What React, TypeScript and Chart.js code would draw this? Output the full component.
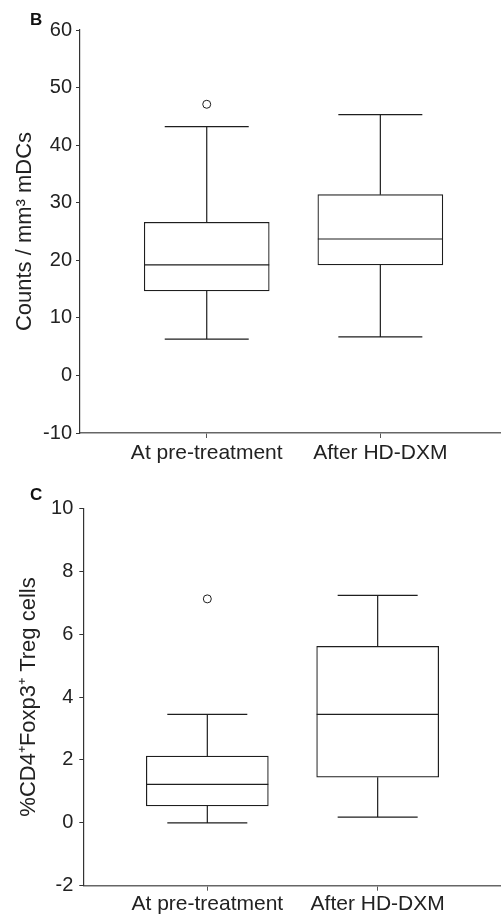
import React, { useEffect, useRef } from "react";
import { Chart, registerables } from "chart.js";

Chart.register(...registerables);

const FONT = "'Liberation Sans', Arial, Helvetica, sans-serif";

// Shared categories
const categories = ["At pre-treatment", "After HD-DXM"];
const categoryPositions = [1, 2];

// Panel B: Counts / mm3 mDCs
const bTicks = [-10, 0, 10, 20, 30, 40, 50, 60];
const bWhiskerLow = [6.3, 6.7];
const bQ1 = [14.7, 19.2];
const bMedian = [19.2, 23.7];
const bQ3 = [26.6, 31.4];
const bWhiskerHigh = [43.2, 45.3];
const bOutliers = [[47.1], []];

// Panel C: %CD4+Foxp3+ Treg cells
const cTicks = [-2, 0, 2, 4, 6, 8, 10];
const cWhiskerLow = [0.0, 0.18];
const cQ1 = [0.54, 1.45];
const cMedian = [1.22, 3.45];
const cQ3 = [2.12, 5.61];
const cWhiskerHigh = [3.45, 7.23];
const cOutliers = [[7.12], []];

type PanelProps = {
  letter: string;
  yTitle: string;
  ticks: number[];
  low: number[];
  q1: number[];
  median: number[];
  q3: number[];
  high: number[];
  outliers: number[][];
  top: number;
  height: number;
  padTop: number;
  xHeight: number;
  yWidth: number;
  xMin: number;
  xMax: number;
  boxPx: number;
  capHalf: number;
  titlePad: number;
  xLabelPad: number;
  yLabelPad: number;
  letterBaseline: number;
};

function Panel(p: PanelProps) {
  const ref = useRef<HTMLCanvasElement | null>(null);
  useEffect(() => {
    if (!ref.current) return;
    const lineColor = "#1e1e1e";
    const boxPlugin = {
      id: "boxExtras",
      afterDatasetsDraw(chart: any) {
        const ctx = chart.ctx;
        const xs = chart.scales.x;
        const ys = chart.scales.y;
        ctx.save();
        ctx.strokeStyle = lineColor;
        ctx.lineWidth = 1.2;
        categoryPositions.forEach((pos, i) => {
          const cx = xs.getPixelForValue(pos);
          const half = p.boxPx / 2;
          const yLow = ys.getPixelForValue(p.low[i]);
          const yQ1 = ys.getPixelForValue(p.q1[i]);
          const yMed = ys.getPixelForValue(p.median[i]);
          const yQ3 = ys.getPixelForValue(p.q3[i]);
          const yHigh = ys.getPixelForValue(p.high[i]);
          ctx.beginPath();
          ctx.moveTo(cx, yQ3);
          ctx.lineTo(cx, yHigh);
          ctx.moveTo(cx, yQ1);
          ctx.lineTo(cx, yLow);
          ctx.moveTo(cx - p.capHalf, yHigh);
          ctx.lineTo(cx + p.capHalf, yHigh);
          ctx.moveTo(cx - p.capHalf, yLow);
          ctx.lineTo(cx + p.capHalf, yLow);
          ctx.moveTo(cx - half, yMed);
          ctx.lineTo(cx + half, yMed);
          ctx.stroke();
        });
        ctx.fillStyle = "#111";
        ctx.font = `bold 17px ${FONT}`;
        ctx.textAlign = "left";
        ctx.textBaseline = "alphabetic";
        ctx.fillText(p.letter, 30, p.letterBaseline);
        ctx.restore();
      },
    };

    const outlierData: { x: number; y: number }[] = [];
    p.outliers.forEach((arr, i) => arr.forEach((v) => outlierData.push({ x: categoryPositions[i], y: v })));

    const chart = new Chart(ref.current, {
      type: "bar",
      data: {
        datasets: [
          {
            type: "bar",
            data: categoryPositions.map((x, i) => ({ x, y: [p.q1[i], p.q3[i]] })) as any,
            backgroundColor: "#ffffff",
            borderColor: lineColor,
            borderWidth: 1.2,
            borderSkipped: false,
            barThickness: p.boxPx,
            grouped: false,
          } as any,
          {
            type: "scatter",
            data: outlierData,
            pointRadius: 4,
            pointBackgroundColor: "#ffffff",
            pointBorderColor: lineColor,
            pointBorderWidth: 1,
          } as any,
        ],
      },
      options: {
        animation: false,
        responsive: false,
        maintainAspectRatio: false,
        layout: { autoPadding: false, padding: { top: p.padTop, left: 0, right: 0, bottom: 0 } },
        plugins: { legend: { display: false }, tooltip: { enabled: false } },
        scales: {
          x: {
            type: "linear",
            offset: false,
            bounds: "data",
            min: p.xMin,
            max: p.xMax,
            afterBuildTicks: (s: any) => {
              s.ticks = categoryPositions.map((v) => ({ value: v }));
            },
            afterFit: (s: any) => {
              s.height = p.xHeight;
            },
            ticks: {
              callback: (v: any) => {
                const idx = categoryPositions.indexOf(Number(v));
                return idx >= 0 ? categories[idx] : "";
              },
              font: { family: FONT, size: 21 },
              color: "#222",
              padding: p.xLabelPad,
              maxRotation: 0,
              autoSkip: false,
            },
            grid: { offset: false, drawOnChartArea: false, drawTicks: true, tickLength: 5, color: "#555", lineWidth: 1 },
            border: { display: true, color: "#666", width: 1.5 },
          },
          y: {
            type: "linear",
            min: p.ticks[0],
            max: p.ticks[p.ticks.length - 1],
            afterBuildTicks: (s: any) => {
              s.ticks = p.ticks.map((v) => ({ value: v }));
            },
            afterFit: (s: any) => {
              s.width = p.yWidth;
            },
            ticks: {
              font: { family: FONT, size: 20 },
              color: "#222",
              padding: p.yLabelPad,
            },
            grid: { drawOnChartArea: false, drawTicks: true, tickLength: 4, color: "#333", lineWidth: 1 },
            border: { display: true, color: "#333", width: 1.2 },
            title: {
              display: true,
              text: p.yTitle,
              font: { family: FONT, size: 22 },
              color: "#222",
              padding: { top: p.titlePad, bottom: 0 },
            },
          },
        },
      },
      plugins: [boxPlugin],
    });
    return () => chart.destroy();
  }, []);
  return (
    <canvas
      ref={ref}
      width={501}
      height={p.height}
      style={{ position: "absolute", left: 0, top: p.top, width: 501, height: p.height }}
    />
  );
}

export default function App() {
  return (
    <div style={{ position: "absolute", left: 0, top: 0, width: 501, height: 917, background: "#fff" }}>
      <Panel
        letter="B"
        yTitle="Counts / mm³ mDCs"
        ticks={bTicks}
        low={bWhiskerLow}
        q1={bQ1}
        median={bMedian}
        q3={bQ3}
        high={bWhiskerHigh}
        outliers={bOutliers}
        top={0}
        height={468}
        padTop={30}
        xHeight={35}
        yWidth={80}
        xMin={0.27}
        xMax={2.695}
        boxPx={125}
        capHalf={42}
        titlePad={12.2}
        xLabelPad={3}
        yLabelPad={4}
        letterBaseline={25}
      />
      <Panel
        letter="C"
        yTitle="%CD4⁺Foxp3⁺ Treg cells"
        ticks={cTicks}
        low={cWhiskerLow}
        q1={cQ1}
        median={cMedian}
        q3={cQ3}
        high={cWhiskerHigh}
        outliers={cOutliers}
        top={468}
        height={449}
        padTop={40.3}
        xHeight={31.3}
        yWidth={83.3}
        xMin={0.272}
        xMax={2.724}
        boxPx={122}
        capHalf={40}
        titlePad={15.5}
        xLabelPad={1}
        yLabelPad={6}
        letterBaseline={32}
      />
    </div>
  );
}
